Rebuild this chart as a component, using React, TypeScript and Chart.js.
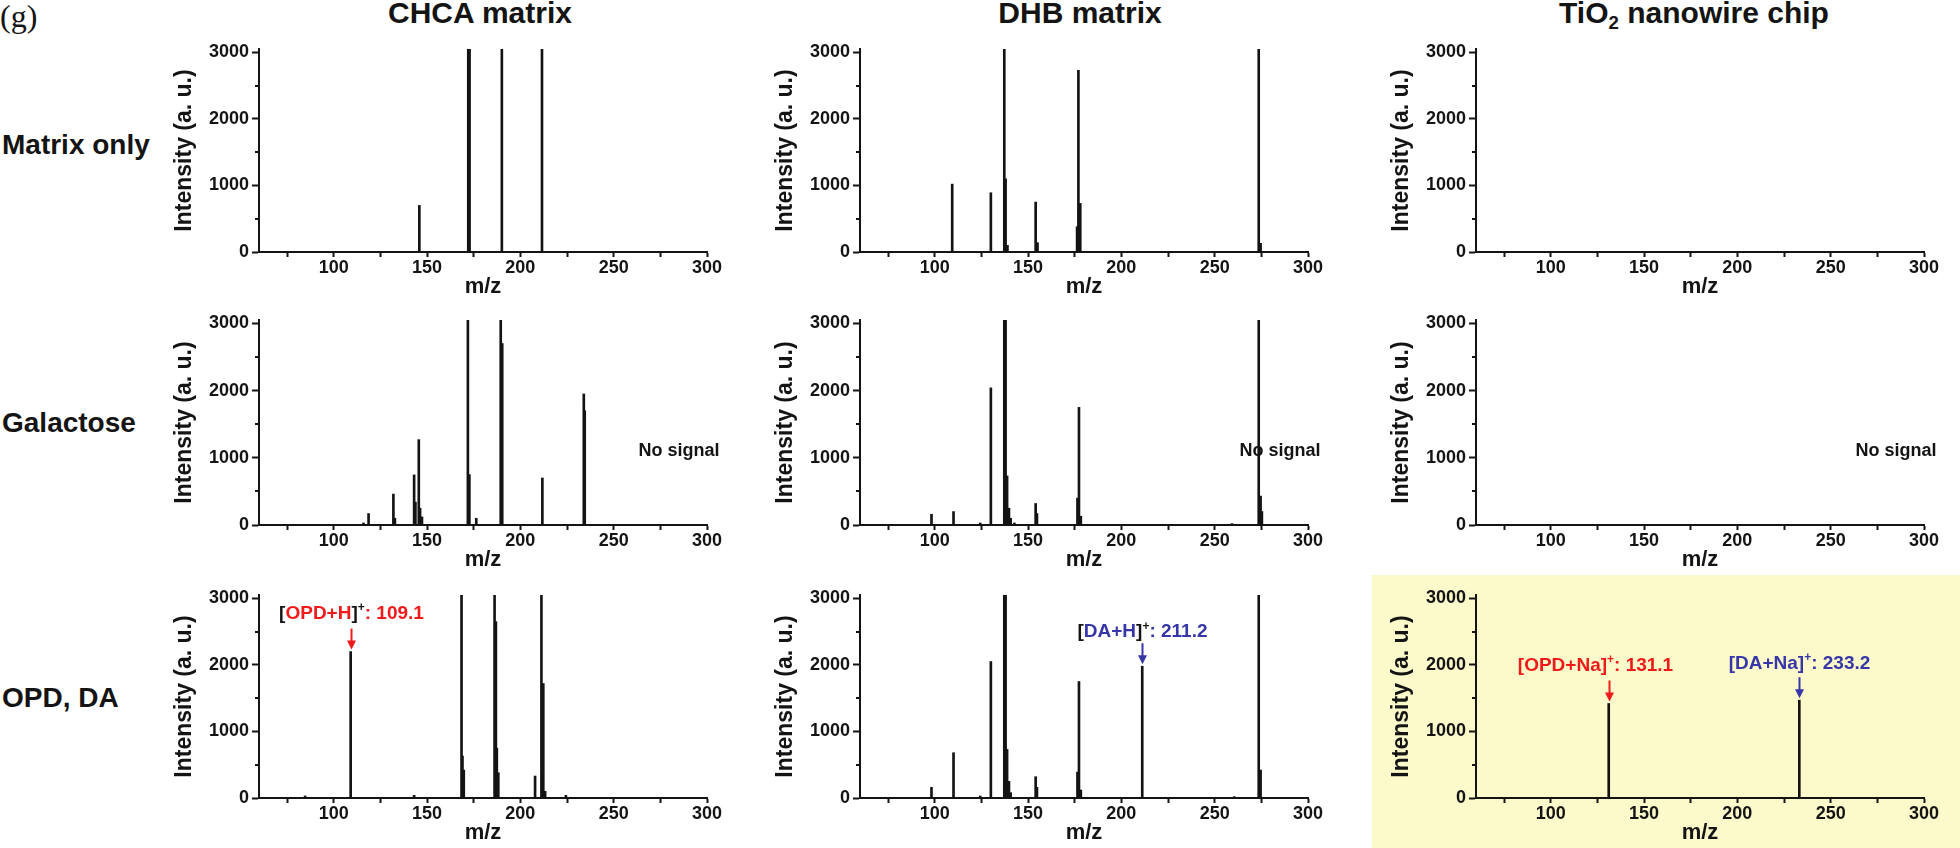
import React, { useEffect, useRef } from "react";
import { Chart, registerables } from "chart.js";

Chart.register(...registerables);

// ---------------- axis ranges / ticks ----------------
const MZ_MIN = 60;
const MZ_MAX = 300;
const MZ_TICK_STEP = 25;
const MZ_LABEL_STEP = 50;
const INT_MIN = 0;
const INT_MAX = 3050;
const INT_TICKS = [0, 1000, 2000, 3000];
const INT_MINOR_TICKS = [500, 1500, 2500];

const COLUMN_TITLES = ["CHCA matrix", "DHB matrix", "TiO2 nanowire chip"];
const ROW_LABELS = ["Matrix only", "Galactose", "OPD, DA"];
const X_TITLE = "m/z";
const Y_TITLE = "Intensity (a. u.)";
const NO_SIGNAL_TEXT = "No signal";
const NO_SIGNAL_MZ = 285;
const NO_SIGNAL_INT = 1100;

// ---------------- spectra (m/z, intensity) ----------------
// CHCA matrix
const CHCA_MATRIX_MZ = [145.9, 172.1, 172.8, 190.1, 211.6];
const CHCA_MATRIX_INT = [700, 3050, 3050, 3050, 3050];

const CHCA_GAL_MZ = [116.0, 118.7, 132.0, 132.8, 143.1, 143.8, 145.6, 146.3, 147.3, 171.9, 172.7, 176.4, 189.5, 190.3, 211.8, 234.0, 234.5];
const CHCA_GAL_INT = [30, 170, 460, 100, 745, 340, 1270, 250, 120, 3050, 750, 100, 3050, 2700, 700, 1950, 1700];

const CHCA_OPD_MZ = [84.7, 109.1, 143.1, 168.5, 169.0, 169.7, 186.2, 186.9, 187.4, 188.2, 207.9, 211.3, 212.3, 213.3, 224.4];
const CHCA_OPD_INT = [30, 2200, 40, 3050, 630, 420, 3050, 2650, 750, 380, 330, 3050, 1720, 100, 40];

// DHB matrix
const DHB_MATRIX_MZ = [109.4, 130.1, 137.3, 138.0, 139.0, 154.1, 155.1, 176.3, 177.0, 178.0, 273.6, 274.6];
const DHB_MATRIX_INT = [1020, 890, 3050, 1100, 100, 750, 140, 380, 2730, 730, 3050, 130];

const DHB_GAL_MZ = [98.3, 110.1, 124.4, 130.1, 137.3, 138.0, 138.8, 139.8, 140.7, 142.7, 154.1, 154.8, 176.5, 177.3, 178.3, 259.3, 273.6, 274.6, 275.3];
const DHB_GAL_INT = [160, 200, 30, 2040, 3050, 3050, 730, 250, 100, 30, 320, 170, 400, 1750, 130, 20, 3050, 430, 200];

const DHB_OPD_MZ = [98.3, 110.1, 124.4, 130.1, 137.3, 138.0, 138.8, 139.8, 140.7, 154.1, 154.8, 176.5, 177.3, 178.3, 211.2, 260.5, 273.6, 274.6];
const DHB_OPD_INT = [160, 680, 30, 2050, 3050, 3050, 730, 250, 80, 320, 160, 390, 1750, 120, 1980, 20, 3050, 420];

// TiO2 nanowire chip
const TIO2_MATRIX_MZ: number[] = [];
const TIO2_MATRIX_INT: number[] = [];
const TIO2_GAL_MZ: number[] = [];
const TIO2_GAL_INT: number[] = [];
const TIO2_OPD_MZ = [131.1, 233.2];
const TIO2_OPD_INT = [1420, 1470];

// ---------------- styles ----------------
const FONT = "'Liberation Sans', Arial, Helvetica, sans-serif";
const INK = "#141414";
const RED = "#f01a1a";
const BLUE = "#3636a8";
const YELLOW_BG = "#fcfacb";

// ---------------- annotations ----------------
type Seg = { text: string; color: string; sup?: boolean };
type Annot = { mz: number; intensity: number; color: string; parts: Seg[]; dx?: number; gap?: number };

const ANNOT_OPD_H: Annot = {
  mz: 109.1, intensity: 2200, color: RED, gap: 36,
  parts: [
    { text: "[", color: INK }, { text: "OPD+H", color: RED }, { text: "]", color: INK },
    { text: "+", color: INK, sup: true }, { text: ": 109.1", color: RED },
  ],
};
const ANNOT_DA_H: Annot = {
  mz: 211.2, intensity: 1980, color: BLUE, gap: 32,
  parts: [
    { text: "[", color: INK }, { text: "DA+H", color: BLUE }, { text: "]", color: INK },
    { text: "+", color: INK, sup: true }, { text: ": 211.2", color: BLUE },
  ],
};
const ANNOT_OPD_NA: Annot = {
  mz: 131.1, intensity: 1420, color: RED, gap: 36, dx: -14,
  parts: [
    { text: "[OPD+Na]", color: RED }, { text: "+", color: RED, sup: true }, { text: ": 131.1", color: RED },
  ],
};
const ANNOT_DA_NA: Annot = {
  mz: 233.2, intensity: 1470, color: BLUE, gap: 34,
  parts: [
    { text: "[DA+Na]", color: BLUE }, { text: "+", color: BLUE, sup: true }, { text: ": 233.2", color: BLUE },
  ],
};

type Panel = { row: number; col: number; mz: number[]; ints: number[]; annots: Annot[]; noSignal: boolean };

const PANELS: Panel[] = [
  { row: 0, col: 0, mz: CHCA_MATRIX_MZ, ints: CHCA_MATRIX_INT, annots: [], noSignal: false },
  { row: 1, col: 0, mz: CHCA_GAL_MZ, ints: CHCA_GAL_INT, annots: [], noSignal: true },
  { row: 2, col: 0, mz: CHCA_OPD_MZ, ints: CHCA_OPD_INT, annots: [ANNOT_OPD_H], noSignal: false },
  { row: 0, col: 1, mz: DHB_MATRIX_MZ, ints: DHB_MATRIX_INT, annots: [], noSignal: false },
  { row: 1, col: 1, mz: DHB_GAL_MZ, ints: DHB_GAL_INT, annots: [], noSignal: true },
  { row: 2, col: 1, mz: DHB_OPD_MZ, ints: DHB_OPD_INT, annots: [ANNOT_DA_H], noSignal: false },
  { row: 0, col: 2, mz: TIO2_MATRIX_MZ, ints: TIO2_MATRIX_INT, annots: [], noSignal: false },
  { row: 1, col: 2, mz: TIO2_GAL_MZ, ints: TIO2_GAL_INT, annots: [], noSignal: true },
  { row: 2, col: 2, mz: TIO2_OPD_MZ, ints: TIO2_OPD_INT, annots: [ANNOT_OPD_NA, ANNOT_DA_NA], noSignal: false },
];

// ---------------- layout ----------------
const COL_AXIS_X = [259, 860, 1476];
const PLOT_W = 448;
const ROW_TOP = [49, 320, 595];
const ROW_BOTTOM = [252, 525, 798];
const Y_SCALE_W = 90;
const X_SCALE_H = 48;
const PAD_TOP = 14;
const PAD_RIGHT = 28;
const PAD_BOTTOM = 2;

const TITLE_X = [480, 1080, 1694];
const ROW_LABEL_TOP = [131, 409, 684];

function makePlugin(panel: Panel) {
  return {
    id: "msDecor",
    afterDraw(chart: any) {
      const { ctx, chartArea } = chart;
      const x = chart.scales.x;
      const y = chart.scales.y;
      ctx.save();
      // minor y ticks
      ctx.strokeStyle = INK;
      ctx.lineWidth = 2;
      for (const v of INT_MINOR_TICKS) {
        const py = Math.round(y.getPixelForValue(v));
        ctx.beginPath();
        ctx.moveTo(chartArea.left - 4, py);
        ctx.lineTo(chartArea.left, py);
        ctx.stroke();
      }
      if (panel.noSignal) {
        ctx.font = `bold 18px ${FONT}`;
        ctx.fillStyle = INK;
        ctx.textAlign = "center";
        ctx.textBaseline = "middle";
        ctx.fillText(NO_SIGNAL_TEXT, x.getPixelForValue(NO_SIGNAL_MZ), y.getPixelForValue(NO_SIGNAL_INT));
      }
      for (const a of panel.annots) {
        const px = Math.round(x.getPixelForValue(a.mz)) + 0.5;
        const tip = y.getPixelForValue(a.intensity) - 2;
        const top = tip - 21;
        ctx.strokeStyle = a.color;
        ctx.fillStyle = a.color;
        ctx.lineWidth = 2;
        ctx.beginPath();
        ctx.moveTo(px, top);
        ctx.lineTo(px, tip - 7);
        ctx.stroke();
        ctx.beginPath();
        ctx.moveTo(px - 4.5, tip - 9);
        ctx.lineTo(px + 4.5, tip - 9);
        ctx.lineTo(px, tip);
        ctx.closePath();
        ctx.fill();
        const ty = tip - (a.gap ?? 36);
        const mainFont = `bold 19px ${FONT}`;
        const supFont = `bold 12px ${FONT}`;
        let total = 0;
        const widths: number[] = [];
        for (const s of a.parts) {
          ctx.font = s.sup ? supFont : mainFont;
          const w = ctx.measureText(s.text).width;
          widths.push(w);
          total += w;
        }
        let cur = px + (a.dx ?? 0) - total / 2;
        ctx.textAlign = "left";
        ctx.textBaseline = "middle";
        a.parts.forEach((s, i) => {
          ctx.font = s.sup ? supFont : mainFont;
          ctx.fillStyle = s.color;
          ctx.fillText(s.text, cur, s.sup ? ty - 6 : ty);
          cur += widths[i];
        });
      }
      ctx.restore();
    },
  };
}

function SpectrumPanel({ panel }: { panel: Panel }) {
  const ref = useRef<HTMLCanvasElement | null>(null);
  const plotH = ROW_BOTTOM[panel.row] - ROW_TOP[panel.row];
  const width = Y_SCALE_W + PLOT_W + PAD_RIGHT;
  const height = PAD_TOP + plotH + X_SCALE_H + PAD_BOTTOM;
  const left = COL_AXIS_X[panel.col] - Y_SCALE_W;
  const top = ROW_TOP[panel.row] - PAD_TOP;

  useEffect(() => {
    if (!ref.current) return;
    const tickFont = { family: FONT, size: 18, weight: "bold" as const };
    const chart = new Chart(ref.current, {
      type: "bar",
      data: {
        datasets: [
          {
            data: panel.mz.map((m, i) => ({ x: m, y: panel.ints[i] })),
            backgroundColor: INK,
            borderWidth: 0,
            barThickness: 2,
            grouped: false,
            clip: 0,
          } as any,
        ],
      },
      options: {
        animation: false,
        responsive: false,
        maintainAspectRatio: false,
        devicePixelRatio: 1,
        events: [],
        layout: { padding: { left: 0, top: PAD_TOP, right: PAD_RIGHT, bottom: PAD_BOTTOM } },
        plugins: { legend: { display: false }, tooltip: { enabled: false } },
        scales: {
          x: {
            type: "linear",
            min: MZ_MIN,
            max: MZ_MAX,
            offset: false,
            ticks: {
              stepSize: MZ_TICK_STEP,
              includeBounds: false,
              autoSkip: false,
              maxRotation: 0,
              minRotation: 0,
              padding: 0,
              color: INK,
              font: tickFont,
              callback: (v: any) => (Number(v) % MZ_LABEL_STEP === 0 ? String(v) : ""),
            },
            grid: { display: true, offset: false, drawOnChartArea: false, drawTicks: true, tickLength: 5, tickWidth: 2, tickColor: INK },
            border: { display: true, color: INK, width: 2 },
            title: { display: true, text: X_TITLE, color: INK, font: { family: FONT, size: 22, weight: "bold" }, padding: { top: 0, bottom: 0 } },
            afterFit: (s: any) => { s.height = X_SCALE_H; },
          } as any,
          y: {
            type: "linear",
            min: INT_MIN,
            max: INT_MAX,
            ticks: { includeBounds: false, autoSkip: false, padding: 3, color: INK, font: tickFont, callback: (v: any) => String(v) },
            afterBuildTicks: (s: any) => { s.ticks = INT_TICKS.map((v) => ({ value: v })); },
            grid: { display: true, drawOnChartArea: false, drawTicks: true, tickLength: 7, tickWidth: 2, tickColor: INK },
            border: { display: true, color: INK, width: 2 },
            title: { display: true, text: Y_TITLE, color: INK, font: { family: FONT, size: 23, weight: "bold" }, padding: { top: 2, bottom: 0 } },
            afterFit: (s: any) => { s.width = Y_SCALE_W; },
          } as any,
        },
      },
      plugins: [makePlugin(panel)],
    });
    return () => chart.destroy();
  }, [panel]);

  return (
    <canvas
      ref={ref}
      width={width}
      height={height}
      style={{ position: "absolute", left, top, width, height }}
    />
  );
}

export default function App() {
  const boldText: React.CSSProperties = { position: "absolute", fontFamily: FONT, fontWeight: "bold", color: INK, whiteSpace: "nowrap" };
  return (
    <div style={{ position: "absolute", left: 0, top: 0, width: 1960, height: 848, background: "#fff", overflow: "hidden" }}>
      <div style={{ position: "absolute", left: 1372, top: 575, width: 588, height: 273, background: YELLOW_BG }} />
      <div style={{ position: "absolute", left: 0, top: 0, fontFamily: "'Liberation Serif', 'Times New Roman', serif", fontSize: 32, lineHeight: "32px", color: INK }}>(g)</div>
      {COLUMN_TITLES.map((t, i) => (
        <div key={t} style={{ ...boldText, left: TITLE_X[i], top: -2, fontSize: 30, lineHeight: "30px", transform: "translateX(-50%)" }}>
          {t.startsWith("TiO2") ? (
            <span>TiO<span style={{ fontSize: "0.62em", position: "relative", top: "0.3em" }}>2</span>{t.slice(4)}</span>
          ) : t}
        </div>
      ))}
      {ROW_LABELS.map((t, i) => (
        <div key={t} style={{ ...boldText, left: 2, top: ROW_LABEL_TOP[i], fontSize: 28, lineHeight: "28px" }}>{t}</div>
      ))}
      {PANELS.map((p) => (
        <SpectrumPanel key={`${p.row}-${p.col}`} panel={p} />
      ))}
    </div>
  );
}
